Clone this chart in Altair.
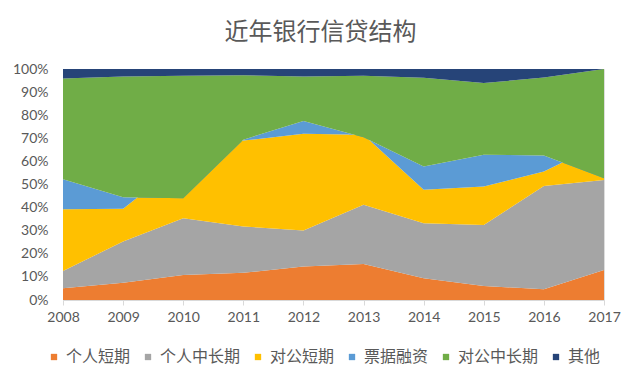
import altair as alt
import pandas as pd

years = [2008, 2009, 2010, 2011, 2012, 2013, 2014, 2015, 2016, 2017]
series_names = ["个人短期", "个人中长期", "对公短期", "票据融资", "对公中长期", "其他"]
colors = ["#ED7D31", "#A5A5A5", "#FFC000", "#5B9BD5", "#70AD47", "#264478"]

# shares in percent (some components negative in some years)
personal_short = [5.1, 7.5, 10.8, 11.8, 14.5, 15.6, 9.4, 6.1, 4.6, 13.0]
personal_long = [7.5, 17.8, 24.6, 20.0, 15.6, 25.6, 23.8, 26.4, 44.8, 39.0]
corp_short = [26.7, 14.2, 24.6, 37.2, 41.9, 30.3, 14.5, 16.6, 6.2, 16.3]
bills = [13.0, 5.0, -15.9, 0.4, 5.5, -1.0, 10.1, 13.8, 7.0, -15.6]
corp_long = [43.6, 52.3, 53.0, 27.9, 19.3, 26.6, 38.4, 31.0, 33.7, 47.3]
other = [4.1, 3.2, 2.9, 2.7, 3.2, 2.9, 3.8, 6.1, 3.7, 0.0]

all_series = [personal_short, personal_long, corp_short, bills, corp_long, other]

rows = []
cum = [0.0] * len(years)
for name, vals in zip(series_names, all_series):
    for i, y in enumerate(years):
        lo = cum[i]
        hi = cum[i] + vals[i]
        rows.append({"year": y, "series": name, "lo": lo / 100.0, "hi": hi / 100.0})
        cum[i] = hi
df = pd.DataFrame(rows)

color_scale = alt.Scale(domain=series_names, range=colors)
FONT_CJK = "Noto Sans CJK SC"
TXT = "#595959"

layers = []
for name in series_names:
    layers.append(
        alt.Chart(df)
        .transform_filter(alt.datum.series == name)
        .mark_area(interpolate="linear", opacity=1, strokeWidth=0)
        .encode(
            x=alt.X("year:Q",
                    scale=alt.Scale(domain=[2008, 2017], nice=False, zero=False),
                    axis=alt.Axis(values=years, format="d", title=None, grid=False,
                                  domainColor="#D9D9D9", tickColor="#D9D9D9", tickSize=5,
                                  labelFont="Lato", labelFontSize=14, labelColor=TXT,
                                  labelPadding=5, labelFlush=False)),
            y=alt.Y("lo:Q", stack=None,
                    scale=alt.Scale(domain=[0, 1], nice=False),
                    axis=alt.Axis(values=[i / 10 for i in range(11)], format=".0%", title=None,
                                  grid=False, domain=False, ticks=False,
                                  labelFont="Lato", labelFontSize=14, labelColor=TXT,
                                  labelPadding=15)),
            y2="hi:Q",
            color=alt.Color("series:N", scale=color_scale,
                            legend=alt.Legend(title=None, orient="none", direction="horizontal",
                                              legendX=-17, legendY=280, columns=6,
                                              symbolType="square", symbolSize=40,
                                              symbolStrokeWidth=0, labelFont=FONT_CJK,
                                              labelFontSize=16, labelColor=TXT,
                                              labelOffset=4, columnPadding=9, padding=0)),
        )
    )

chart = (
    alt.layer(*layers)
    .properties(
        width=541,
        height=231,
        title=alt.TitleParams("近年银行信贷结构", font=FONT_CJK, fontSize=24, fontWeight="normal",
                              color=TXT, anchor="middle", frame="group", dx=-13, offset=17),
        autosize=alt.AutoSizeParams(type="none"),
        padding={"left": 55, "top": 61, "right": 28, "bottom": 76},
    )
    .configure_view(stroke=None)
    .configure(background="white")
)

chart.save("out.html", embed_options={"renderer": "svg", "actions": False})
